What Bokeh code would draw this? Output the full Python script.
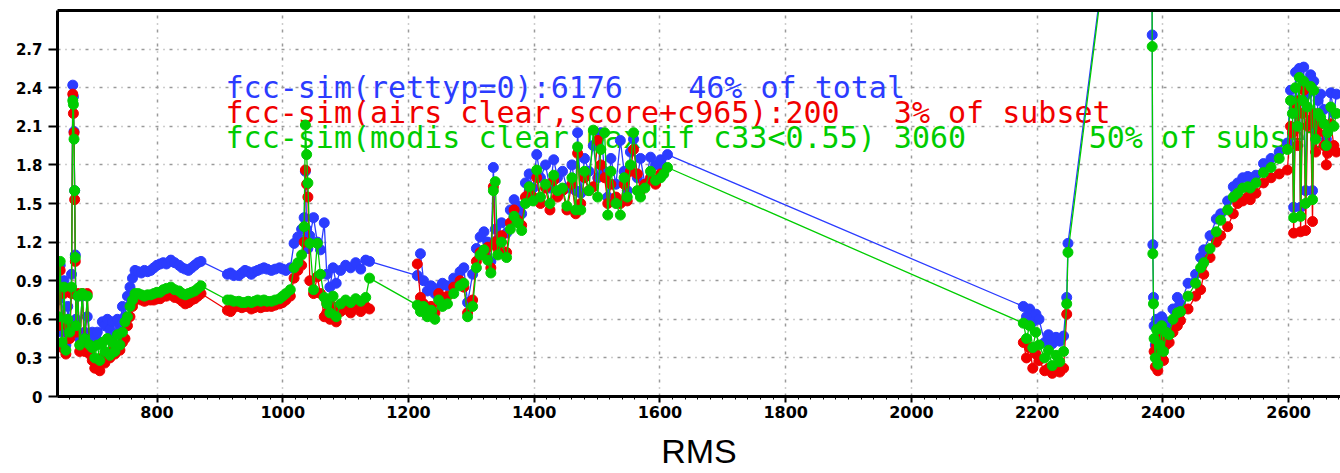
import numpy as np
from bokeh.plotting import figure
from bokeh.models import LinearAxis, FixedTicker, CustomJSTickFormatter
from bokeh.core.properties import value
from bokeh.embed import file_html
from bokeh.resources import INLINE

nan = float("nan")

# RMS sample positions shared by the three retrieval sets (nan = no value in that set)
rms = [
    643, 646, 649, 652, 655, 658, 661, 664, 666, 667, 668, 669, 670, 671, 674,
    677, 681, 685, 689, 693,
    697, 701, 705, 709, 713, 717, 721, 725, 729, 733, 737, 741,
    745, 749, 753, 757, 761, 765,
    770, 775, 780, 785, 790, 795, 800, 805, 810, 815, 822, 828, 835, 840, 845, 850, 855, 860, 865, 870,
    912, 917, 922, 930, 935, 940, 945, 950, 955, 960, 965, 970, 975, 982, 988, 995, 1000, 1005,
    1012, 1018, 1024, 1030, 1034, 1036, 1038, 1040, 1043, 1049, 1055, 1060, 1066,
    1070, 1075, 1080, 1085, 1092, 1100, 1108, 1116, 1124, 1132, 1138,
    1176,
    1214, 1219, 1224, 1230, 1236, 1242, 1248, 1254, 1262, 1272, 1282, 1288, 1294,
    1302, 1308, 1314, 1320, 1326, 1331, 1335, 1338, 1342, 1348, 1356, 1362, 1368, 1374, 1380, 1386, 1392, 1398,
    1404, 1410, 1418, 1425, 1431, 1437, 1445, 1452, 1460, 1466, 1469, 1474, 1480, 1487, 1494, 1501, 1506,
    1512, 1517, 1522, 1530, 1537, 1543, 1548, 1553, 1558, 1564, 1569, 1576, 1585, 1593, 1601, 1606, 1612,
    2178, 2183, 2188, 2193, 2198, 2203, 2212, 2218, 2224, 2230, 2236, 2242, 2247, 2249,
    2381, 2383, 2384, 2385,
    2386, 2388, 2390, 2392, 2395, 2398, 2401, 2405, 2410, 2416, 2423, 2428, 2440, 2452, 2460, 2465,
    2475, 2485, 2492, 2503, 2512, 2519, 2527, 2535, 2539, 2548, 2560, 2572, 2585, 2598,
    2603, 2606, 2608, 2611, 2614, 2617, 2619, 2622, 2624, 2627, 2630, 2635, 2638, 2640, 2643, 2647,
    2651, 2656, 2660, 2662, 2667, 2672, 2676,
]

# fcc-sim, all retrievals with rettyp=0
sim_rettyp0 = [
    0.75, 1.02, 0.50, 0.90, 0.40, 0.70, 0.55, 0.95, 2.42, 2.33, 2.06, 1.60, 1.10, 0.60, 0.78,
    0.45, 0.78, 0.50, 0.62, 0.45,
    0.50, 0.46, 0.50, 0.42, 0.58, 0.55, 0.60, 0.52, 0.58, 0.48, 0.60, 0.55,
    0.70, 0.62, 0.78, 0.85, 0.92, 0.98,
    0.97, 0.96, 0.98, 0.97, 0.98, 1.00, 1.02, 1.03, 1.04, 1.03, 1.06, 1.04, 1.02, 1.00, 0.99, 0.98, 1.00, 1.02, 1.04, 1.05,
    0.95, 0.96, 0.94, 0.94, 0.96, 0.98, 0.97, 0.95, 0.97, 0.98, 0.99, 1.00, 0.99, 0.98, 0.99, 1.00, 0.99, 0.98,
    1.00, 1.19, 1.24, 1.30, 1.39, 1.75, 1.30, 1.15, 1.25, 1.39, 1.20, 1.14, 1.35,
    0.95, 0.85, 1.00, 0.88, 0.98, 1.02, 1.00, 1.04, 0.99, 1.06, 1.05,
    nan,
    0.94, 1.11, 0.90, 0.82, 0.86, 0.80, 0.84, 0.88, 0.86, 0.92, 0.97, 1.00, 0.73,
    0.95, 1.15, 1.24, 1.28, 1.20, 1.05, 1.78, 1.30, 1.22, 1.35, 1.27, 1.45, 1.53, 1.48, 1.42, 1.66, 1.73, 1.62,
    1.88, 1.70, 1.80, 1.62, 1.84, 1.70, 1.75, 1.62, 1.80, 1.60, 2.05, 1.58, 1.85, 1.75, 1.95, 1.70, 2.05,
    1.75, 1.55, 1.85, 1.65, 1.99, 1.75, 1.60, 1.90, 2.00, 1.70, 1.85, 1.65, 1.86, 1.80, 1.84, 1.78, 1.88,
    0.70, 0.62, 0.68, 0.58, 0.64, 0.60, 0.42, 0.48, 0.41, 0.46, 0.43, 0.47, 0.77, 1.19,
    6.20, 2.81, 1.18, 0.77,
    0.55, 0.40, 0.60, 0.35, 0.50, 0.62, 0.45, 0.58, 0.55, 0.68, 0.77, 0.72, 0.88, 0.95, 1.08, 1.14,
    1.25, 1.38, 1.42, 1.52, 1.63, 1.66, 1.70, 1.71, 1.70, 1.72, 1.81, 1.85, 1.90, 1.97,
    2.38, 2.30, 1.47, 2.52, 2.20, 2.55, 1.47, 2.40, 2.56, 1.60, 2.35, 2.50, 1.60, 2.45, 2.10, 2.30,
    2.35, 2.23, 2.00, 2.05, 2.36, 2.20, 2.35,
]

# fcc-sim, AIRS clear subset
sim_airs_clear = [
    0.55, 0.98, 0.38, 0.80, 0.33, 0.55, 0.45, 0.80, 2.35, 2.20, 2.05, 1.53, 1.05, 0.50, 0.80,
    0.35, 0.80, 0.35, 0.80, 0.33,
    0.28, 0.22, 0.25, 0.20, 0.30, 0.26, 0.32, 0.30, 0.35, 0.33, 0.38, 0.36,
    0.42, 0.45, 0.55, 0.62, 0.70, 0.75,
    0.76, 0.75, 0.74, 0.75, 0.75, 0.75, 0.76, 0.76, 0.78, 0.78, 0.79, 0.77, 0.76, 0.74, 0.72, 0.73, 0.75, 0.76, 0.78, 0.80,
    0.67, 0.66, 0.69, 0.70, 0.69, 0.70, 0.70, 0.68, 0.69, 0.70, 0.69, 0.70, 0.70, 0.70, 0.71, 0.72, 0.73, 0.75,
    0.78, 0.92, 0.98, 1.02, 1.20, 1.76, 1.65, 1.55, 0.90, 0.80, 0.93, 0.80, 0.62,
    0.65, 0.60, 0.70, 0.58, 0.66, 0.68, 0.65, 0.69, 0.66, 0.70, 0.68,
    nan,
    1.03, 0.77, 0.72, 0.66, 0.70, 0.65, 0.80, 0.76, 0.78, 0.85, 0.90, 0.85, 0.65,
    0.75, 1.05, 1.12, 1.10, 1.16, 1.00, 1.63, 1.20, 1.15, 1.25, 1.12, 1.35, 1.45, 1.37, 1.33, 1.55, 1.58, 1.55,
    1.70, 1.50, 1.62, 1.45, 1.68, 1.55, 1.60, 1.45, 1.65, 1.42, 1.89, 1.50, 1.70, 1.60, 1.63, 1.99, 1.80,
    1.70, 1.50, 1.65, 1.55, 1.50, 1.65, 1.52, 1.75, 1.92, 1.73, 1.60, 1.65, 1.70, 1.65, 1.73, nan, nan,
    0.42, 0.30, 0.38, 0.22, 0.33, 0.28, 0.20, 0.22, 0.18, 0.21, 0.19, 0.22, 0.64, nan,
    nan, nan, nan, nan,
    0.35, 0.23, 0.40, 0.20, 0.30, 0.45, 0.28, 0.40, 0.42, 0.50, 0.55, 0.59, 0.68, 0.78, 0.83, 0.95,
    1.08, 1.20, 1.25, 1.32, 1.42, 1.50, 1.52, 1.55, 1.53, 1.58, 1.66, 1.70, 1.73, 1.76,
    2.10, 2.05, 1.27, 2.25, 1.95, 2.30, 1.28, 2.20, 2.38, 1.29, 2.10, 2.15, 1.36, 2.20, 1.90, 2.05,
    2.12, 1.95, 1.80, 1.89, 2.12, 1.95, 1.90,
]

# fcc-sim, MODIS clear subset
sim_modis_clear = [
    0.62, 1.05, 0.42, 0.85, 0.36, 0.60, 0.50, 0.85, 2.30, 2.27, 2.00, 1.60, 1.08, 0.55, 0.78,
    0.40, 0.80, 0.45, 0.78, 0.40,
    0.38, 0.30, 0.40, 0.28, 0.42, 0.35, 0.45, 0.32, 0.42, 0.35, 0.48, 0.40,
    0.50, 0.58, 0.62, 0.70, 0.75, 0.80,
    0.80, 0.79, 0.78, 0.79, 0.79, 0.80, 0.81, 0.81, 0.83, 0.84, 0.85, 0.83, 0.82, 0.80, 0.79, 0.80, 0.81, 0.82, 0.84, 0.86,
    0.75, 0.75, 0.74, 0.74, 0.73, 0.73, 0.74, 0.73, 0.74, 0.75, 0.74, 0.75, 0.74, 0.74, 0.75, 0.76, 0.78, 0.80,
    0.83, 1.00, 1.04, 1.10, 1.32, 2.11, 1.88, 1.66, 1.19, 0.83, 1.19, 0.95, 0.77,
    0.72, 0.65, 0.78, 0.62, 0.72, 0.75, 0.73, 0.76, 0.74, 0.77, 0.92,
    nan,
    0.71, 0.66, 0.70, 0.62, 0.67, 0.60, 0.75, 0.70, 0.72, 0.80, 0.86, 0.88, 0.62,
    0.70, 1.00, 1.10, 1.14, 1.06, 0.96, 1.60, 1.67, 1.10, 1.20, 1.08, 1.30, 1.40, 1.35, 1.29, 1.50, 1.63, 1.52,
    1.76, 1.55, 1.65, 1.50, 1.72, 1.60, 1.62, 1.48, 1.70, 1.45, 1.94, 1.45, 1.75, 1.60, 2.07, 1.55, 1.92,
    2.05, 1.41, 1.75, 1.50, 1.41, 1.70, 1.55, 1.80, 2.05, 1.60, 1.55, 1.62, 1.75, 1.68, 1.70, 1.73, 1.78,
    0.57, 0.45, 0.55, 0.38, 0.50, 0.40, 0.30, 0.36, 0.24, 0.32, 0.27, 0.35, 0.72, 1.12,
    6.20, 2.72, 1.11, 0.72,
    0.45, 0.30, 0.52, 0.25, 0.40, 0.55, 0.35, 0.50, 0.48, 0.60, 0.65, 0.66, 0.78, 0.88, 1.00, 1.04,
    1.15, 1.28, 1.37, 1.45, 1.55, 1.58, 1.62, 1.63, 1.62, 1.66, 1.74, 1.78, 1.85, 1.92,
    2.30, 2.20, 1.39, 2.40, 2.10, 2.48, 1.40, 2.30, 2.45, 1.50, 2.25, 2.41, 1.53, 2.38, 2.00, 2.20,
    2.17, 2.12, 1.95, 2.05, 2.25, 2.10, 2.20,
]

# legend: set description and its share, written as two columns
legend_names = [
    "fcc-sim(rettyp=0):6176",
    "fcc-sim(airs clear,score+c965):200",
    "fcc-sim(modis clear,maxdif c33<0.55) 3060",
]
legend_shares = ["46% of total", "3% of subset", "50% of subset"]

x_ticks = [800, 1000, 1200, 1400, 1600, 1800, 2000, 2200, 2400, 2600]
y_ticks = [0, 0.3, 0.6, 0.9, 1.2, 1.5, 1.8, 2.1, 2.4, 2.7]
y_tick_labels = ["0", "0.3", "0.6", "0.9", "1.2", "1.5", "1.8", "2.1", "2.4", "2.7"]

BLUE = "#2b3cff"
RED = "#f00000"
GREEN = "#00cc00"

x = np.array(rms, dtype=float)
series = [
    (np.array(sim_rettyp0, dtype=float), BLUE, False),
    (np.array(sim_airs_clear, dtype=float), RED, True),
    (np.array(sim_modis_clear, dtype=float), GREEN, False),
]

p = figure(
    width=1340, height=473,
    x_range=(641.7, 2682.5), y_range=(0, 3.0),
    output_backend="svg", toolbar_location=None,
    min_border_left=57, min_border_right=0, min_border_top=10, min_border_bottom=77,
    outline_line_color=None, background_fill_color="white", border_fill_color="white",
)

# axes
xa = p.xaxis[0]
xa.ticker = FixedTicker(ticks=x_ticks, minor_ticks=list(range(660, 2681, 20)))
xa.axis_line_width = 3
xa.axis_line_color = "black"
xa.major_tick_line_width = 2
xa.major_tick_out = 6
xa.major_tick_in = 0
xa.minor_tick_line_width = 1
xa.minor_tick_out = 3
xa.minor_tick_in = 0
xa.major_label_standoff = 3
xa.major_label_text_font = "DejaVu Sans"
xa.major_label_text_font_style = "bold"
xa.major_label_text_font_size = "16px"
xa.major_label_text_color = "black"
xa.axis_label = "RMS"
xa.axis_label_text_font = "Liberation Sans"
xa.axis_label_text_font_style = "normal"
xa.axis_label_text_font_size = "34px"
xa.axis_label_text_color = "black"
xa.axis_label_standoff = 11

ya = p.yaxis[0]
ya.ticker = FixedTicker(ticks=y_ticks)
ya.formatter = CustomJSTickFormatter(
    args=dict(yvals=y_ticks, ylabels=y_tick_labels),
    code="const i = yvals.findIndex(t => Math.abs(t - tick) < 1e-9); return i >= 0 ? ylabels[i] : '';",
)
ya.axis_line_width = 3
ya.axis_line_color = "black"
ya.major_tick_line_width = 2
ya.major_tick_out = 9
ya.major_tick_in = 0
ya.minor_tick_line_color = None
ya.major_label_standoff = 6
ya.major_label_text_font = "DejaVu Sans"
ya.major_label_text_font_style = "bold"
ya.major_label_text_font_size = "15px"
ya.major_label_text_color = "black"

top = LinearAxis(ticker=FixedTicker(ticks=[]), axis_line_width=3, axis_line_color="black",
                 major_tick_line_color=None, minor_tick_line_color=None)
p.add_layout(top, "above")

# dotted grid
p.xgrid.ticker = FixedTicker(ticks=x_ticks)
p.ygrid.ticker = FixedTicker(ticks=y_ticks[1:])
for g in (p.xgrid[0], p.ygrid[0]):
    g.grid_line_color = "#9a9a9a"
    g.grid_line_width = 1.5
    g.grid_line_dash = "3 5 1 5"

# legend text, drawn beneath the data
legend_rows = zip(legend_names, legend_shares, (BLUE, RED, GREEN), (2.40, 2.205, 2.01), (1645, 1972, 2282))
for name, share, color, ty, share_x in legend_rows:
    p.text(x=[909, share_x], y=[ty, ty], text=[name, share], text_color=color,
           text_font=value("DejaVu Sans Mono"), text_font_size="30px",
           text_baseline="middle", text_align="left")

# series: lines with circle marks; the AIRS subset breaks where it has no data
for vals, color, break_gaps in series:
    if break_gaps:
        lx, ly = x, vals
    else:
        keep = ~np.isnan(vals)
        lx, ly = x[keep], vals[keep]
    p.line(lx, ly, line_color=color, line_width=1.3)
    p.scatter(x, vals, marker="circle", size=10, fill_color=color, line_color=color)

open("out.html", "w").write(file_html(p, INLINE))
